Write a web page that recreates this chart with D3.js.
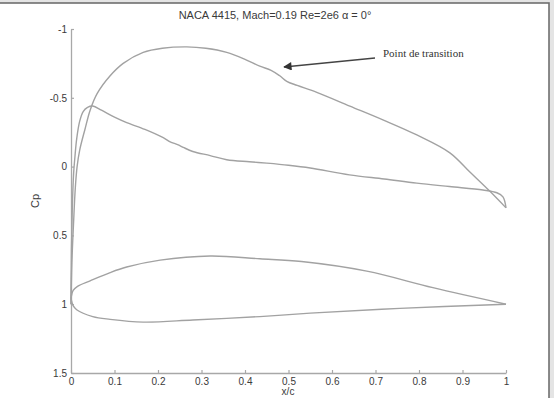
<!DOCTYPE html>
<html><head><meta charset="utf-8">
<script src="https://cdn.jsdelivr.net/npm/d3@7"></script>
<style>body{margin:0;background:#e4e4e4;}svg{display:block;}</style>
</head><body>
<svg id="c" width="554" height="398"></svg>
<script>
const title = "NACA 4415, Mach=0.19 Re=2e6 \u03b1 = 0\u00b0";
const xTicks = [0,0.1,0.2,0.3,0.4,0.5,0.6,0.7,0.8,0.9,1];
const xTickLabels = ["0","0.1","0.2","0.3","0.4","0.5","0.6","0.7","0.8","0.9","1"];
const yTicks = [-1,-0.5,0,0.5,1,1.5];
const yTickLabels = ["-1","-0.5","0","0.5","1","1.5"];

// Cp on upper surface
const upperX  = [0,0.002,0.006,0.010,0.014,0.020,0.032,0.044,0.060,0.090,0.120,0.166,0.210,0.266,0.310,0.358,0.400,0.434,0.460,0.480,0.496,0.520,0.565,0.641,0.717,0.795,0.871,0.917,0.963,1.0];
const upperCp = [1,0.70,0.40,0.15,0,-0.12,-0.27,-0.41,-0.53,-0.66,-0.75,-0.83,-0.86,-0.87,-0.86,-0.83,-0.78,-0.73,-0.70,-0.66,-0.62,-0.59,-0.54,-0.44,-0.34,-0.23,-0.10,0.04,0.18,0.30];
// Cp on lower surface
const lowerX  = [0,0.001,0.003,0.006,0.009,0.013,0.020,0.028,0.038,0.050,0.070,0.100,0.128,0.170,0.212,0.228,0.245,0.258,0.280,0.320,0.358,0.410,0.450,0.500,0.550,0.640,0.720,0.795,0.870,0.947,0.979,0.993,1.0];
const lowerCp = [1,0.60,0.30,0.05,-0.07,-0.20,-0.33,-0.40,-0.43,-0.44,-0.41,-0.36,-0.32,-0.27,-0.21,-0.18,-0.16,-0.14,-0.11,-0.08,-0.05,-0.035,-0.025,-0.01,0.01,0.06,0.09,0.12,0.145,0.17,0.19,0.22,0.30];
// Airfoil contour (scaled into the plot)
const foilUpperX = [0,0.005,0.015,0.044,0.090,0.128,0.205,0.320,0.434,0.530,0.680,0.832,1.0];
const foilUpperY = [0.96,0.90,0.87,0.83,0.77,0.73,0.68,0.65,0.67,0.69,0.76,0.88,1.0];
const foilLowerX = [0,0.005,0.013,0.050,0.090,0.166,0.280,0.434,0.550,0.756,1.0];
const foilLowerY = [0.96,1.01,1.04,1.09,1.11,1.13,1.115,1.09,1.065,1.03,1.0];

const annotation = "Point de transition";
const xLabel = "x/c", yLabel = "Cp";

const svg = d3.select("#c");
svg.append("rect").attr("x",-5).attr("y",3).attr("width",554).attr("height",400)
  .attr("fill","#fff").attr("stroke","#6e6e6e").attr("stroke-width",1.6);

const x = d3.scaleLinear().domain([0,1]).range([71,506]);
const y = d3.scaleLinear().domain([-1,1.5]).range([29,373]);

const axisColor = "#a8a8a8", textColor = "#3a3a3a";

const gx = svg.append("g").attr("transform","translate(0,373)")
  .call(d3.axisBottom(x).tickValues(xTicks).tickFormat((d,i)=>xTickLabels[i]).tickSizeInner(-3).tickSizeOuter(0).tickPadding(5));
const gy = svg.append("g").attr("transform","translate(71,0)")
  .call(d3.axisLeft(y).tickValues(yTicks).tickFormat((d,i)=>yTickLabels[i]).tickSizeInner(-3).tickSizeOuter(0).tickPadding(4));
[gx,gy].forEach(g=>{
  g.select(".domain").attr("stroke",axisColor).attr("stroke-width",1.3);
  g.selectAll(".tick line").attr("stroke",axisColor).attr("stroke-width",1.2);
  g.selectAll(".tick text").attr("fill",textColor).attr("font-family","Liberation Sans, Arial, sans-serif").attr("font-size",10);
});

const line = d3.line().x(d=>x(d[0])).y(d=>y(d[1])).curve(d3.curveCatmullRom.alpha(0.5));
const series = [
  d3.zip(upperX, upperCp),
  d3.zip(lowerX, lowerCp),
  d3.zip(foilUpperX, foilUpperY),
  d3.zip(foilLowerX, foilLowerY)
];
svg.append("g").selectAll("path").data(series).join("path")
  .attr("d", line).attr("fill","none").attr("stroke","#a2a2a2").attr("stroke-width",1.4);

svg.append("text").attr("x",275).attr("y",19).attr("text-anchor","middle")
  .attr("font-family","Liberation Sans, Arial, sans-serif").attr("font-size",11).attr("fill",textColor).text(title);
svg.append("text").attr("x",288).attr("y",395).attr("text-anchor","middle")
  .attr("font-family","Liberation Sans, Arial, sans-serif").attr("font-size",10).attr("fill",textColor).text(xLabel);
svg.append("text").attr("transform","translate(39,201) rotate(-90)").attr("text-anchor","middle")
  .attr("font-family","Liberation Sans, Arial, sans-serif").attr("font-size",11).attr("fill",textColor).text(yLabel);

// annotation
svg.append("defs").append("marker").attr("id","ah").attr("viewBox","0 0 10 10")
  .attr("refX",9).attr("refY",5).attr("markerWidth",9).attr("markerHeight",6).attr("orient","auto-start-reverse")
  .append("path").attr("d","M0,0L10,5L0,10z").attr("fill","#333");
svg.append("line").attr("x1",375).attr("y1",58).attr("x2",284).attr("y2",67)
  .attr("stroke","#444").attr("stroke-width",1.4).attr("marker-end","url(#ah)");
svg.append("text").attr("x",383).attr("y",57).attr("font-family","Liberation Serif, Times New Roman, serif")
  .attr("font-size",11).attr("fill","#333").text(annotation);
</script>
</body></html>
